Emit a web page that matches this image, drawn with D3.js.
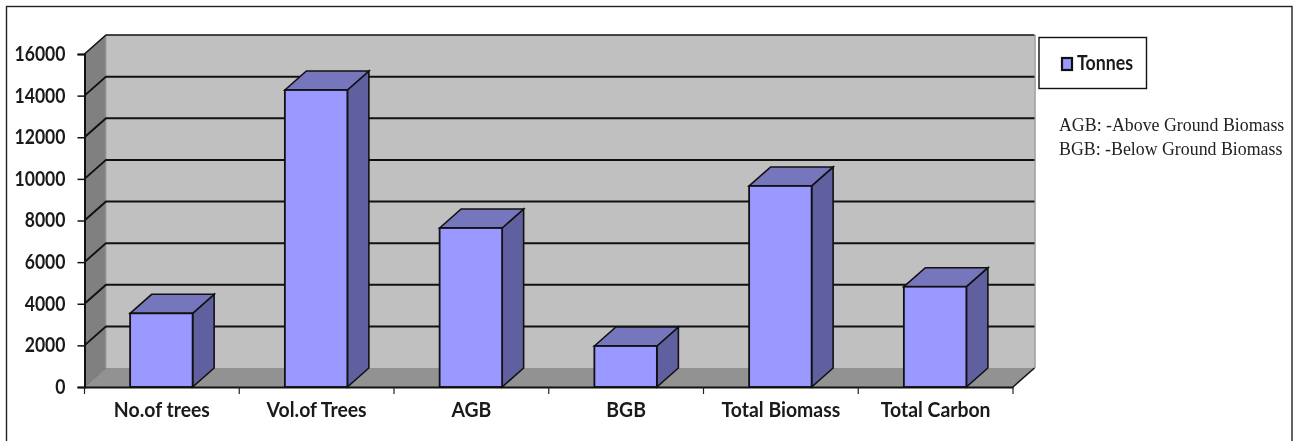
<!DOCTYPE html>
<html><head><meta charset="utf-8">
<script src="https://d3js.org/d3.v7.min.js"></script>
<style>html,body{margin:0;padding:0;background:#fff}svg{display:block;filter:blur(0.35px)}</style>
</head><body><svg id="c" width="1293" height="441"></svg>
<script>
const categories = ["No.of trees","Vol.of Trees","AGB","BGB","Total Biomass","Total Carbon"];
const tonnes = [3540,14270,7640,1970,9660,4820];
const yTicks = [0,2000,4000,6000,8000,10000,12000,14000,16000];
const seriesName = "Tonnes";
const notes = ["AGB: -Above Ground Biomass","BGB: -Below Ground Biomass"];

const svg = d3.select("#c");
const W=1293,H=441;
svg.append("rect").attr("x",6.5).attr("y",6.5).attr("width",W-7.5).attr("height",H).attr("fill","#fff").attr("stroke","#222").attr("stroke-width",1.4);

const x0=84.5,x1=1013,dx=21.5,dy=-19;
const y=d3.scaleLinear().domain([0,16000]).range([387,54]);
const x=d3.scaleBand().domain(categories).range([x0,x1]).paddingInner(0).paddingOuter(0);
const barW=62.5;
const g=svg.append("g");
const poly=(pts,fill,stroke,sw)=>g.append("polygon").attr("points",pts.map(p=>p.join(",")).join(" ")).attr("fill",fill).attr("stroke",stroke||"none").attr("stroke-width",sw||0);

// walls
const yT=y(16000),yB=y(0);
poly([[x0+dx,yT+dy],[x1+dx,yT+dy],[x1+dx,yB+dy],[x0+dx,yB+dy]],"#c0c0c0");
poly([[x0,yT],[x0+dx,yT+dy],[x0+dx,yB+dy],[x0,yB]],"#808080");
poly([[x0,yB],[x0+dx,yB+dy],[x1+dx,yB+dy],[x1,yB]],"#929292");
g.append("line").attr("x1",x1+dx+.5).attr("x2",x1+dx+.5).attr("y1",yT+dy).attr("y2",yB+dy).attr("stroke","#999").attr("stroke-width",1.5);
g.append("line").attr("x1",x0+dx).attr("x2",x0+dx).attr("y1",yT+dy).attr("y2",yB+dy).attr("stroke","#a0a0a0").attr("stroke-width",1);

// gridlines
yTicks.forEach(t=>{
  const yy=y(t);
  if(t>0) g.append("polyline").attr("points",`${x0},${yy} ${x0+dx},${yy+dy} ${x1+dx},${yy+dy}`).attr("fill","none").attr("stroke","#111").attr("stroke-width",t==16000?1.6:2);
});
g.append("polyline").attr("points",`${x0},${yB} ${x0+dx},${yB+dy}`).attr("stroke","#777").attr("stroke-width",1);
g.append("polyline").attr("points",`${x1},${yB} ${x1+dx},${yB+dy}`).attr("stroke","#111").attr("stroke-width",1.5);

// bars
categories.forEach((c,i)=>{
  const bx=x(c)+x.bandwidth()/2-barW/2-0.5, by=y(tonnes[i]);
  poly([[bx+barW,by],[bx+barW+dx,by+dy],[bx+barW+dx,yB+dy],[bx+barW,yB]],"#6060a0","#111",1.6);
  poly([[bx,by],[bx+dx,by+dy],[bx+barW+dx,by+dy],[bx+barW,by]],"#7676bd","#111",1.6);
  g.append("rect").attr("x",bx).attr("y",by).attr("width",barW).attr("height",yB-by).attr("fill","#9999ff").attr("stroke","#111").attr("stroke-width",1.8);
});

// narrow a text element to a share of its natural width, taller glyphs kept
function squeeze(sel,k){
  sel.each(function(){
    const n=this.getComputedTextLength();
    d3.select(this).attr("textLength",n*k).attr("lengthAdjust","spacingAndGlyphs");
  });
}
const labelFont=a=>a.attr("fill","#1a1a1a").style("font-family","Lato").style("font-weight",700).style("font-size","20px");

// axes
const yAxis=d3.axisLeft(y).tickValues(yTicks).tickSize(7).tickPadding(12).tickFormat(d3.format("d"));
const ya=svg.append("g").attr("transform",`translate(${x0},0)`).call(yAxis);
const xAxis=d3.axisBottom(x).tickSize(0).tickPadding(16);
const xa=svg.append("g").attr("transform",`translate(0,${yB})`).call(xAxis);
xa.selectAll(".tick line").remove();
[...categories.map(c=>x(c)),x1].forEach(v=>xa.append("line").attr("x1",v).attr("x2",v).attr("y1",0).attr("y2",7).attr("stroke","#222").attr("stroke-width",1.2));
[ya,xa].forEach(a=>{a.select(".domain").attr("stroke","#111").attr("stroke-width",2);
  labelFont(a.selectAll("text"));});
ya.selectAll(".tick line").attr("stroke","#111").attr("stroke-width",1.5);
squeeze(ya.selectAll(".tick text"),0.88);
squeeze(xa.selectAll(".tick text"),0.97);

// legend
svg.append("rect").attr("x",1039).attr("y",37.5).attr("width",107.5).attr("height",51).attr("fill","#fff").attr("stroke","#111").attr("stroke-width",1.4);
svg.append("rect").attr("x",1062).attr("y",58).attr("width",10).attr("height",12).attr("fill","#9999ff").attr("stroke","#111").attr("stroke-width",2.2);
const lt=svg.append("text").attr("x",1077).attr("y",70).text(seriesName);
labelFont(lt); squeeze(lt,0.89);
// notes
svg.selectAll("text.note").data(notes).join("text").attr("class","note")
 .attr("transform",(d,i)=>`translate(1059,${131+i*24}) scale(0.915,1)`)
 .text(d=>d).attr("fill","#222").style("font-family","Liberation Serif").style("font-size","19.5px");
</script></body></html>
